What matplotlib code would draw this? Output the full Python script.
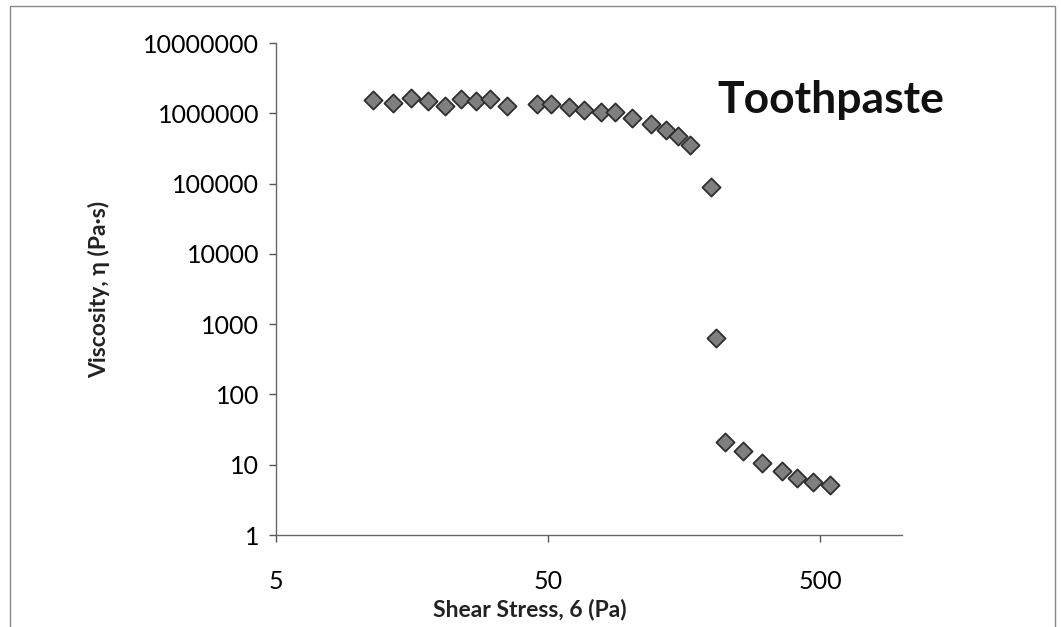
import numpy as np
import matplotlib
matplotlib.use("Agg")
import matplotlib.pyplot as plt
from matplotlib.patches import Rectangle
from matplotlib.ticker import FixedLocator, NullLocator

# shear stress (Pa) and viscosity (Pa.s)
shear_stress = [11.4, 13.5, 15.7, 18.1, 20.9, 23.9, 27.2, 30.6, 35.3, 45.6,
                51.3, 59.7, 67.8, 78.3, 88.1, 101.8, 119.6, 135.8, 150.3, 166.4,
                198.6, 207.4, 223.8, 260.5, 306, 362, 411, 471, 544]
viscosity = [1.54e6, 1.40e6, 1.64e6, 1.49e6, 1.27e6, 1.59e6, 1.49e6, 1.59e6, 1.27e6, 1.35e6,
             1.35e6, 1.22e6, 1.11e6, 1.04e6, 1.04e6, 8.55e5, 7.0e5, 5.77e5, 4.74e5, 3.53e5,
             8.9e4, 634, 21, 15.7, 10.6, 8.1, 6.5, 5.7, 5.1]

x_ticks = [5, 50, 500]
y_ticks = [1, 10, 100, 1000, 10000, 100000, 1000000, 10000000]

plt.rcParams['font.family'] = ['Lato', 'DejaVu Sans']

fig = plt.figure(figsize=(10.61, 6.27), dpi=100)
ax = fig.add_axes([0.260, 0.1467, 0.590, 0.7847])

ax.scatter(shear_stress, viscosity, marker='D', s=85, facecolor='#7f7f7f',
           edgecolor='#2e2e2e', linewidth=1.3, zorder=3)

ax.set_xscale('log')
ax.set_yscale('log')
ax.set_xlim(5, 1000)
ax.set_ylim(1, 10000000)

ax.xaxis.set_major_locator(FixedLocator(x_ticks))
ax.xaxis.set_minor_locator(NullLocator())
ax.yaxis.set_major_locator(FixedLocator(y_ticks))
ax.yaxis.set_minor_locator(NullLocator())
ax.set_xticklabels([str(t) for t in x_ticks])
ax.set_yticklabels([str(t) for t in y_ticks])
ax.tick_params(axis='y', labelsize=18, length=5, width=1, color='#555555',
               direction='out', pad=7)
ax.tick_params(axis='x', labelsize=18, length=5, width=1, color='#555555',
               direction='out', pad=20)

for s in ['top', 'right']:
    ax.spines[s].set_visible(False)
for s in ['left', 'bottom']:
    ax.spines[s].set_color('#666666')
    ax.spines[s].set_linewidth(1)

ax.set_xlabel('Shear Stress, 6 (Pa)', fontsize=16.5, fontweight='bold', color='#222222')
ax.xaxis.set_label_coords(0.406, -0.13)
ax.set_ylabel('Viscosity, η (Pa·s)', fontsize=16.5, fontweight='bold', color='#222222')
ax.yaxis.set_label_coords(-0.264, 0.5)

ax.text(0.887, 0.884, 'Toothpaste', transform=ax.transAxes, fontsize=32,
        fontweight='bold', ha='center', va='center', color='#111111')

fig.patches.append(Rectangle((0.009, -0.01), 0.985, 1.0, transform=fig.transFigure,
                             fill=False, edgecolor='#888888', linewidth=1))

fig.savefig('out.png', dpi=100)
